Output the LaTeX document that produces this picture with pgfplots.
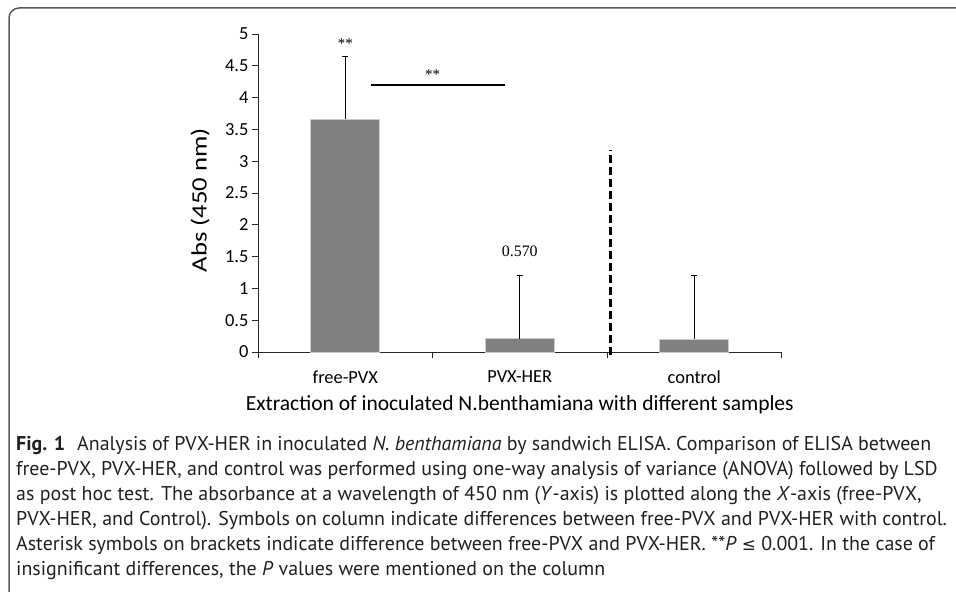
\documentclass[border=0pt]{standalone}
\usepackage{fontspec}
\setmainfont{Carlito}
\newfontfamily\capfont{PT Sans}
\newfontfamily\tnr{Liberation Serif}
\newfontfamily\dejavu{DejaVu Sans}
\usepackage{pgfplots}
\pgfplotsset{compat=1.18}
\definecolor{bargray}{RGB}{128,128,128}
\definecolor{baredge}{RGB}{205,205,205}
\definecolor{framegray}{RGB}{90,90,90}
\definecolor{captext}{RGB}{35,31,32}
\pgfplotstableread{
x y e
0 3.66 0.99
1 0.21 0.995
2 0.20 1.00
}\datatable
\begin{document}
\begin{tikzpicture}[x=1bp,y=1bp]
\useasboundingbox (0,0) rectangle (956,-592);
\draw[framegray, line width=1.5bp] (9,-593) -- (9,-18) arc[start angle=180,end angle=90,radius=10] -- (957,-8);
\begin{axis}[
  at={(258bp,-352bp)}, anchor=south west,
  scale only axis, width=523.5bp, height=318bp,
  xmin=-0.5, xmax=2.5, ymin=0, ymax=5,
  axis lines*=left,
  axis line style={line width=0.9bp, black!85},
  clip=false,
  tick align=outside, major tick length=6bp,
  tick style={line width=0.9bp, black!85},
  xtick={-0.5,0.5,1.5,2.5},
  x tick label as interval,
  xticklabels={free-PVX,PVX-HER,control},
  ytick={0,0.5,1,1.5,2,2.5,3,3.5,4,4.5,5},
  /pgf/number format/assume math mode=true,
  ticklabel style={font=\fontsize{18.5}{18.5}\selectfont, text=black},
  xticklabel style={yshift=-9bp},
  xlabel={Extraction of inoculated N.benthamiana with different samples},
  xlabel style={font=\fontsize{21.6}{21.6}\selectfont, at={(axis description cs:0.5,-0.1855)}, anchor=base},
  ylabel={\scalebox{1.22}[1]{Abs (450 nm)}},
  ylabel style={font=\fontsize{22}{22}\selectfont, at={(axis description cs:-0.1108,0.478)}, anchor=center},
]
\addplot[ybar, bar width=69bp, fill=bargray, draw=baredge, line width=0.8bp,
  error bars/.cd, y dir=plus, y explicit,
  error bar style={black, line width=0.8bp},
  error mark options={rotate=90, mark size=3bp, black, line width=0.8bp}]
  table[x=x, y=y, y error=e] {\datatable};
\addplot[black, line width=3bp, dash pattern=on 8bp off 4bp] coordinates {(1.519,-0.05) (1.519,3.18)};
\addplot[black, line width=2bp] coordinates {(0.149,4.2) (0.917,4.2)};
\node[font=\tnr\fontsize{15}{15}\selectfont] at (axis cs:0,4.85) {**};
\node[font=\tnr\fontsize{15}{15}\selectfont] at (axis cs:0.5,4.36) {**};
\node[font=\tnr\fontsize{16}{16}\selectfont] at (axis cs:1,1.58) {0.570};
\end{axis}
\begin{scope}[every node/.style={anchor=base west, inner sep=0pt, text=captext, font=\capfont\fontsize{20}{20}\selectfont}]
\node at (16,-450) {\textbf{Fig. 1}\hspace{0.6em}Analysis of PVX-HER in inoculated \textit{N. benthamiana} by sandwich ELISA. Comparison of ELISA between};
\node at (16,-475) {free-PVX, PVX-HER, and control was performed using one-way analysis of variance (ANOVA) followed by LSD};
\node at (16,-500) {as post hoc test. The absorbance at a wavelength of 450 nm (\textit{Y}-axis) is plotted along the \textit{X}-axis (free-PVX,};
\node at (16,-525) {PVX-HER, and Control). Symbols on column indicate differences between free-PVX and PVX-HER with control.};
\node at (16,-550) {Asterisk symbols on brackets indicate difference between free-PVX and PVX-HER. **\textit{P} {\dejavu\fontsize{17}{17}\selectfont ≤} 0.001. In the case of};
\node at (16,-575) {insignificant differences, the \textit{P} values were mentioned on the column};
\end{scope}
\end{tikzpicture}
\end{document}
